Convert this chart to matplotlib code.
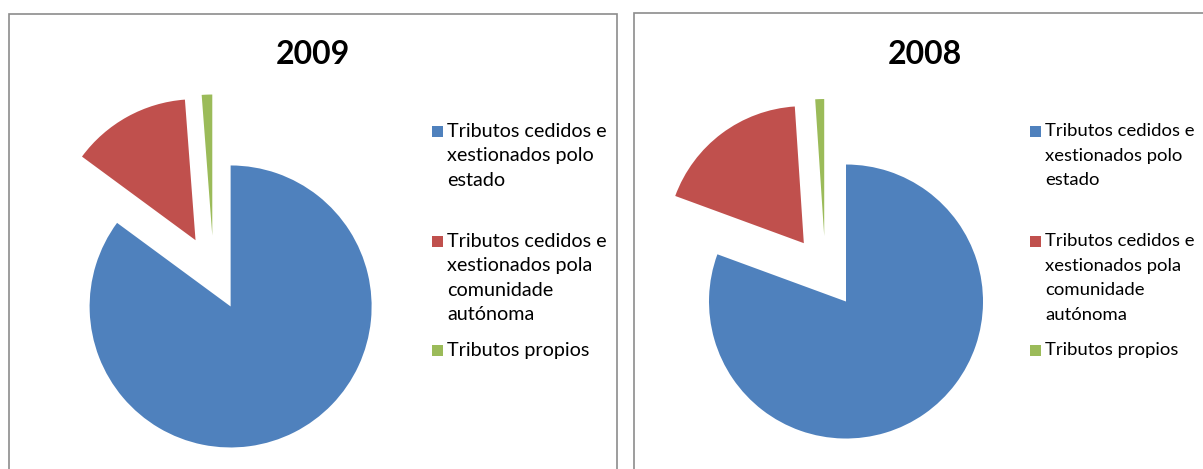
import matplotlib
matplotlib.use("Agg")
import matplotlib.pyplot as plt
from matplotlib.patches import Rectangle

# ---- data ----
categories = [
    "Tributos cedidos e\nxestionados polo\nestado",
    "Tributos cedidos e\nxestionados pola\ncomunidade\nautónoma",
    "Tributos propios",
]
titles = ["2009", "2008"]
values_2009 = [85.1, 13.7, 1.2]
values_2008 = [80.6, 18.35, 1.05]
colors = ["#4F81BD", "#C0504D", "#9BBB59"]

W, H = 1203, 469
plt.rcParams['font.family'] = ['Lato', 'DejaVu Sans']

fig = plt.figure(figsize=(W / 100, H / 100), dpi=100)
ax = fig.add_axes([0, 0, 1, 1])


def Y(py):
    return H - py

panels = [
    dict(box=(9, 14, 608, 470), center=(213.7, 273), r=141, expl=37.5,
         title_xy=(313, 54), leg_sq=432, leg_tx=447, fs=14.2,
         values=values_2009),
    dict(box=(634, 13, 600, 470), center=(825.4, 272), r=137, expl=36,
         title_xy=(925, 54), leg_sq=1030, leg_tx=1045, fs=13.3,
         values=values_2008),
]
legend_rows = [131, 241, 350]
line_step = 24.5

for p, title in zip(panels, titles):
    bx, by, bw, bh = p["box"]
    ax.add_patch(Rectangle((bx, Y(by + bh)), bw, bh, fill=False,
                           edgecolor="#8c8c8c", linewidth=1.2))
    cx, cy = p["center"]
    ax.pie(p["values"], colors=colors, startangle=90, counterclock=False,
           radius=p["r"], center=(cx, Y(cy)),
           explode=[p["expl"]] * len(p["values"]),
           wedgeprops=dict(linewidth=0), frame=False)
    tx, ty = p["title_xy"]
    ax.text(tx, Y(ty), title, ha="center", va="center", fontsize=23,
            fontweight="bold", color="black")
    for lab, col, row in zip(categories, colors, legend_rows):
        ax.add_patch(Rectangle((p["leg_sq"], Y(row + 6)), 11, 11,
                               facecolor=col, edgecolor="none"))
        for i, line in enumerate(lab.split("\n")):
            ax.text(p["leg_tx"], Y(row + i * line_step), line, ha="left",
                    va="center", fontsize=p["fs"], color="black")

ax.set_xlim(0, W)
ax.set_ylim(0, H)
ax.set_aspect("auto")
ax.axis("off")

fig.savefig("out.png", dpi=100)
